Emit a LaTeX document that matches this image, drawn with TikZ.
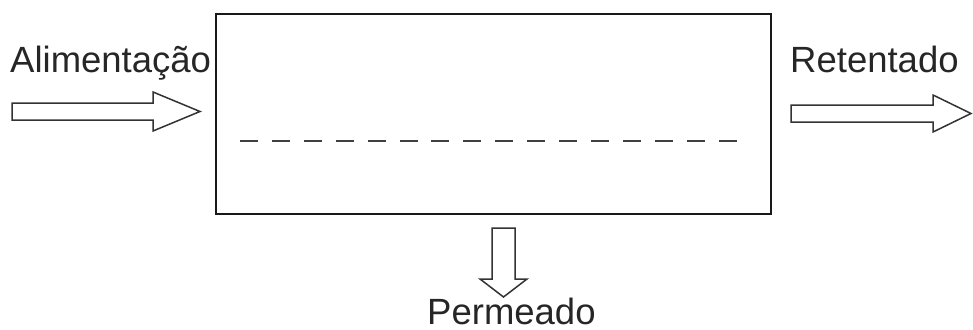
\documentclass[tikz,border=0pt]{standalone}
\usepackage{fontspec}
\setmainfont{Liberation Sans}
\begin{document}
\begin{tikzpicture}[x=1pt,y=-1pt,
  lbl/.style={anchor=base west,inner sep=0pt,text depth=0pt,font=\fontsize{36.5}{42}\selectfont,text=black!85},
  blockarrow/.style={draw=black!80,fill=white,line width=1.5pt,line join=miter},
  membrane/.style={draw=black!75,line width=1.6pt,dash pattern=on 18pt off 13.9pt}]
  \useasboundingbox (0,0) rectangle (973,329);
  % membrane module
  \node[draw=black!90,line width=2pt,minimum width=555pt,minimum height=200pt,inner sep=0pt,anchor=north west] (modulo) at (215,13) {};
  \draw[membrane] (240,141) -- (737.5,141);
  % feed
  \node[lbl] (alim) at (10,72) {Alimentação};
  \draw[blockarrow] (12,103) -- (153,103) -- (153,92) -- (200,111.5) -- (153,131) -- (153,120) -- (12,120) -- cycle;
  % retentate
  \node[lbl] (ret) at (790,72) {Retentado};
  \draw[blockarrow] (791,105) -- (933,105) -- (933,95) -- (971,113.5) -- (933,132) -- (933,122) -- (791,122) -- cycle;
  % permeate
  \draw[blockarrow] (492,228) -- (515,228) -- (515,279) -- (527,279) -- (503.5,297) -- (480,279) -- (492,279) -- cycle;
  \node[lbl] (perm) at (427,324) {Permeado};
\end{tikzpicture}
\end{document}
